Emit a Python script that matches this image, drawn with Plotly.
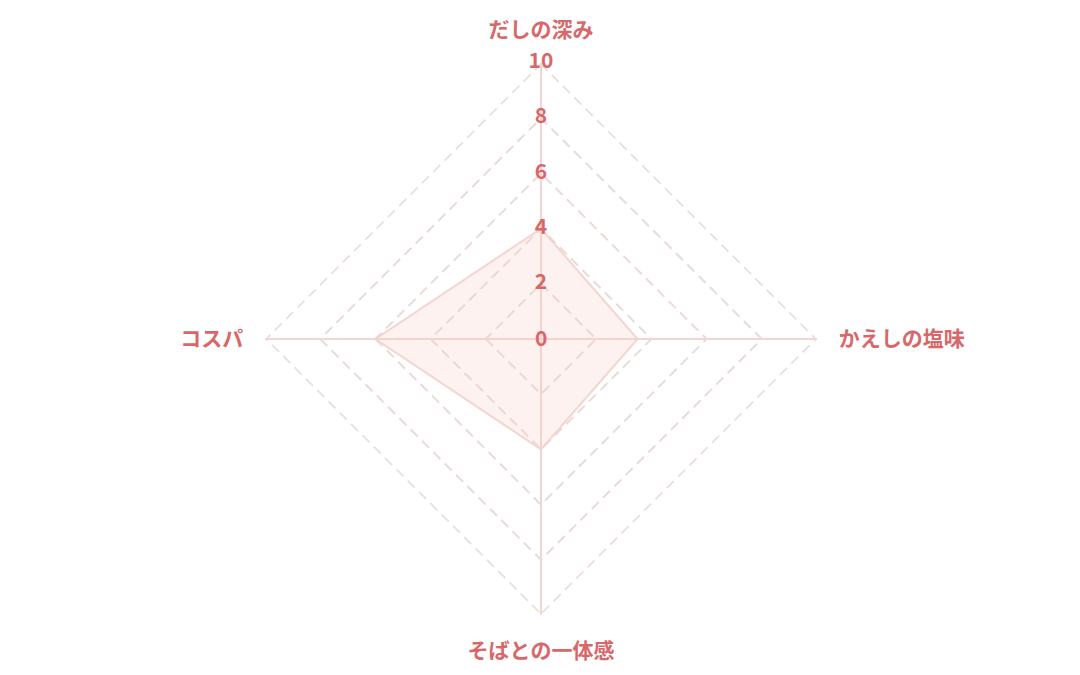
"""
レーダーチャート（そばの評価）
"""
from plotly.graph_objects import Scatterpolar, Figure

# データ
categories = ["だしの深み", "かえしの塩味", "そばとの一体感", "コスパ"]
scores = [4, 3.5, 4, 6]
tick_values = [0, 2, 4, 6, 8, 10]
tick_labels = ["0", "2", "4", "6", "8", "10"]

TEXT_COLOR = "#d9676a"
GRID_COLOR = "#e8dcd8"
GRID_DASH = "10px,6px"
FONT = "Noto Sans CJK JP"


def main():
    fig = Figure()

    # 外周の点線（r = 10）: 外側半分はクリップされるので太めに
    r_max = tick_values[-1]
    fig.add_trace(Scatterpolar(
        r=[r_max] * (len(categories) + 1),
        theta=categories + categories[:1],
        mode="lines",
        line=dict(color=GRID_COLOR, width=3.2, dash=GRID_DASH),
        cliponaxis=False,
        hoverinfo="skip",
        showlegend=False,
    ))

    # 評価の多角形
    fig.add_trace(Scatterpolar(
        r=scores + scores[:1],
        theta=categories + categories[:1],
        mode="lines",
        fill="toself",
        fillcolor="rgba(246, 205, 195, 0.25)",
        line=dict(color="rgba(242, 210, 204, 0.9)", width=2),
        hoverinfo="skip",
        showlegend=False,
    ))

    # 目盛りラベル（だしの深みの軸上）: r = 0 は描画されないので注釈で
    fig.add_trace(Scatterpolar(
        r=tick_values[1:],
        theta=[categories[0]] * (len(tick_values) - 1),
        mode="text",
        text=tick_labels[1:],
        textfont=dict(family=FONT, size=21, color=TEXT_COLOR, weight=700),
        textposition="middle center",
        cliponaxis=False,
        hoverinfo="skip",
        showlegend=False,
    ))
    fig.add_annotation(
        x=0.5, y=0.5, xref="paper", yref="paper", yshift=2,
        text=tick_labels[0], showarrow=False,
        font=dict(family=FONT, size=21, color=TEXT_COLOR, weight=700),
    )

    fig.update_layout(
        width=1080,
        height=675,
        paper_bgcolor="white",
        plot_bgcolor="white",
        margin=dict(l=0, r=14, t=55, b=68),
        font=dict(family=FONT, color=TEXT_COLOR),
        polar=dict(
            bgcolor="white",
            gridshape="linear",
            radialaxis=dict(
                range=[0, 10],
                tickvals=tick_values,
                showticklabels=False,
                ticks="",
                showline=False,
                gridcolor=GRID_COLOR,
                griddash=GRID_DASH,
                gridwidth=1.5,
                angle=90,
            ),
            angularaxis=dict(
                direction="clockwise",
                rotation=90,
                showline=False,
                ticks="outside",
                ticklen=17,
                tickcolor="rgba(0,0,0,0)",
                gridcolor="#f4d4d2",
                gridwidth=1.5,
                tickfont=dict(family=FONT, size=21, color=TEXT_COLOR, weight=700),
            ),
        ),
    )

    fig.write_html("out.html")


if __name__ == "__main__":
    main()
